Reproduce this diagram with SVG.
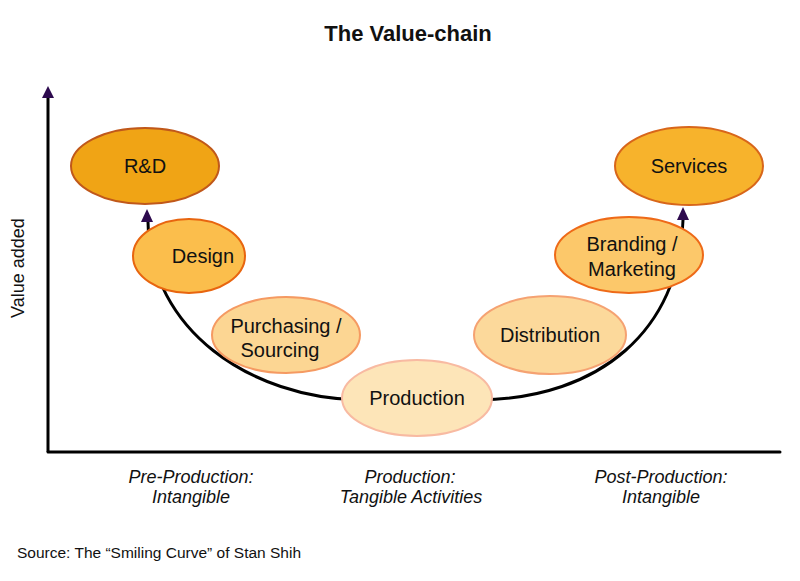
<svg xmlns="http://www.w3.org/2000/svg" width="800" height="581" viewBox="0 0 800 581">
<style>
.t{font-family:"Liberation Sans",Arial,sans-serif;fill:#111}
.n{font-size:20px;text-anchor:middle}
.c{font-size:18px;font-style:italic;text-anchor:middle}
.ah{fill:#2d0a4e;stroke:none}
</style>
<rect width="800" height="581" fill="#fff"/>
<text class="t" x="408" y="41" font-size="22" font-weight="bold" text-anchor="middle">The Value-chain</text>
<g id="axes" fill="none" stroke="#000" stroke-width="3">
<path d="M48,452 L780,452" stroke-linecap="round"/>
<path d="M48,452 L48,96"/>
<path class="ah" d="M42,98 L48,86 L54,98 Z"/>
</g>
<text class="t" transform="translate(24,268) rotate(-90)" font-size="18" text-anchor="middle">Value added</text>
<g id="connectors" fill="none" stroke="#000" stroke-width="3">
<path d="M148,222 C150,330 250,398 360,400 L480,400 C600,398 680,330 683,220"/>
<path class="ah" d="M141,222 L147,209 L153,222 Z"/>
<path class="ah" d="M677,220 L683,207 L689,220 Z"/>
</g>
<g id="rd"><ellipse cx="145" cy="166" rx="74" ry="38" fill="#f0a415" stroke="#c0581a" stroke-width="2"/><text class="t n" x="145" y="173">R&amp;D</text></g>
<g id="design"><ellipse cx="189" cy="256" rx="56" ry="37" fill="#fbbe4c" stroke="#e8650f" stroke-width="2"/><text class="t n" x="203" y="263">Design</text></g>
<g id="purchasing"><ellipse cx="286" cy="335" rx="74" ry="38" fill="#fcd693" stroke="#f59a62" stroke-width="2"/><text class="t n" x="286" y="333">Purchasing /</text><text class="t n" x="280" y="357">Sourcing</text></g>
<g id="production"><ellipse cx="417" cy="398" rx="75" ry="38" fill="#fde5b8" stroke="#f8baa2" stroke-width="2"/><text class="t n" x="417" y="405">Production</text></g>
<g id="distribution"><ellipse cx="550" cy="335" rx="76" ry="39" fill="#fcd99b" stroke="#f5a272" stroke-width="2"/><text class="t n" x="550" y="342">Distribution</text></g>
<g id="branding"><ellipse cx="629" cy="255" rx="74" ry="38" fill="#fcc86a" stroke="#ee6a18" stroke-width="2"/><text class="t n" x="632" y="251">Branding /</text><text class="t n" x="632" y="276">Marketing</text></g>
<g id="services"><ellipse cx="689" cy="166" rx="74" ry="39" fill="#f7b32c" stroke="#d8661a" stroke-width="2"/><text class="t n" x="689" y="173">Services</text></g>
<g id="categories">
<text class="t c" x="191" y="483">Pre-Production:</text>
<text class="t c" x="191" y="503">Intangible</text>
<text class="t c" x="410" y="483">Production:</text>
<text class="t c" x="411" y="503">Tangible Activities</text>
<text class="t c" x="661" y="483">Post-Production:</text>
<text class="t c" x="661" y="503">Intangible</text>
</g>
<text class="t" x="17" y="558" font-size="15.5">Source: The “Smiling Curve” of Stan Shih</text>
</svg>
